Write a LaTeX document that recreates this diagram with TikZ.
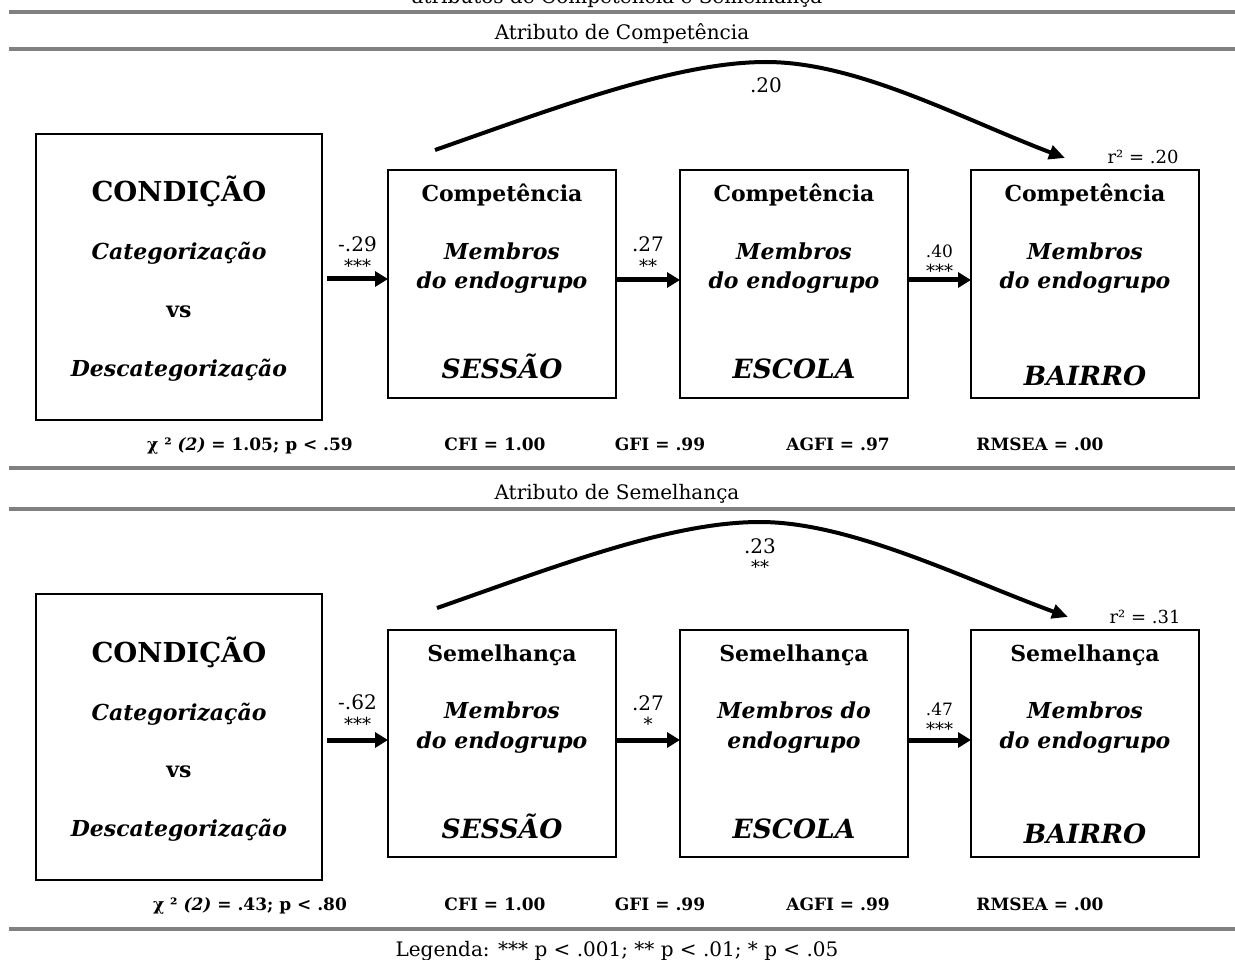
\documentclass[tikz,border=0pt]{standalone}
\usepackage{fontspec}
\setmainfont{DejaVu Serif}
\usetikzlibrary{arrows.meta,calc}
\definecolor{rulegray}{RGB}{128,128,128}
\begin{document}
\begin{tikzpicture}[x=1pt,y=-1pt,
  box/.style={draw, line width=1.4pt, inner sep=0pt, outer sep=0pt, anchor=north west},
  head/.style={font=\fontsize{20}{24}\selectfont, inner sep=0pt, anchor=base},
  big/.style={font=\bfseries\fontsize{27.5}{32}\selectfont, inner sep=0pt, anchor=base},
  bh/.style={font=\bfseries\fontsize{22}{26}\selectfont, inner sep=0pt, anchor=base},
  bi/.style={font=\bfseries\itshape\fontsize{22}{26}\selectfont, inner sep=0pt, anchor=base},
  bil/.style={font=\bfseries\itshape\fontsize{26.5}{30}\selectfont, inner sep=0pt, anchor=base},
  stat/.style={font=\bfseries\fontsize{17}{20}\selectfont, inner sep=0pt, anchor=base},
  coef/.style={font=\fontsize{20}{23}\selectfont, inner sep=0pt},
  coefs/.style={font=\fontsize{17}{20}\selectfont, inner sep=0pt},
  star/.style={font=\fontsize{18}{21}\selectfont, inner sep=0pt},
  rsq/.style={font=\fontsize{18}{21}\selectfont, inner sep=0pt},
  arr/.style={line width=5pt, -{Triangle[length=13pt,width=15pt]}},
  carr/.style={line width=4pt, -{Triangle[length=16pt,width=14pt]}},
  rule/.style={draw=rulegray, line width=4pt},
  sq/.style={box, minimum width=228pt, minimum height=228pt},
  cond/.style={box, minimum width=286pt, minimum height=286pt}
]
\useasboundingbox (0,0) rectangle (1235,960);

% title (cut off) and rules
\node[head] (title) at (617,4) {atributos de Competência e Semelhança};
\draw[rule] (9,12) -- (1235,12);
\node[head] (h1) at (622,40) {Atributo de Competência};
\draw[rule] (9,49.5) -- (1235,49.5);

% ---------------- top panel ----------------
\node[cond] (c1) at (36,134) {};
\node[sq] (s1) at (388,170) {};
\node[sq] (e1) at (680,170) {};
\node[sq] (b1) at (971,170) {};

\node[big] (c1a) at ($(c1.north)+(0,68)$) {CONDIÇÃO};
\node[bi]  (c1b) at ($(c1.north)+(0,126)$) {Categorização};
\node[bh]  (c1c) at ($(c1.north)+(0,183)$) {vs};
\node[bi]  (c1d) at ($(c1.north)+(0,242)$) {Descategorização};

\node[bh]  (s1a) at ($(s1.north)+(0,32)$) {Competência};
\node[bi]  (s1b) at ($(s1.north)+(0,90)$) {Membros};
\node[bi]  (s1c) at ($(s1.north)+(0,118)$) {do endogrupo};
\node[bil] (s1d) at ($(s1.north)+(0,208)$) {SESSÃO};

\node[bh]  (e1a) at ($(e1.north)+(0,32)$) {Competência};
\node[bi]  (e1b) at ($(e1.north)+(0,90)$) {Membros};
\node[bi]  (e1c) at ($(e1.north)+(0,118)$) {do endogrupo};
\node[bil] (e1d) at ($(e1.north)+(0,208)$) {ESCOLA};

\node[bh]  (b1a) at ($(b1.north)+(0,32)$) {Competência};
\node[bi]  (b1b) at ($(b1.north)+(0,90)$) {Membros};
\node[bi]  (b1c) at ($(b1.north)+(0,118)$) {do endogrupo};
\node[bil] (b1d) at ($(b1.north)+(0,215)$) {BAIRRO};

\node[rsq] (r1) at ($(b1.north)+(58,-13)$) {r² = .20};

\coordinate (c1o) at ([xshift=5pt,yshift=-2pt]c1.east);
\draw[arr] (c1o) -- (c1o -| s1.west)
  node[midway, yshift=35pt, coef] {-.29}
  node[midway, yshift=13pt, star] {***};
\draw[arr] ([yshift=4pt]s1.east) -- ([yshift=4pt]e1.west)
  node[midway, yshift=36pt, coef] {.27}
  node[midway, yshift=14pt, star] {**};
\draw[arr] ([yshift=4pt]e1.east) -- ([yshift=4pt]b1.west)
  node[midway, yshift=29pt, coefs] {.40}
  node[midway, yshift=9pt, star] {***};

\coordinate (t1a) at ([xshift=47pt,yshift=20pt]s1.north west);
\coordinate (t1b) at ([xshift=94pt,yshift=12pt]b1.north west);
\draw[carr] (t1a) .. controls (555,108) and (676,62) .. (766,62)
  .. controls (857,62) and (960,118) .. (t1b)
  node[pos=0, yshift=-23pt, coef] {.20};

\node[stat] (st1) at (250,450) {χ ² \textit{(2)} = 1.05; p < .59};
\node[stat] (st2) at (495,450) {CFI = 1.00};
\node[stat] (st3) at (660,450) {GFI = .99};
\node[stat] (st4) at (838,450) {AGFI = .97};
\node[stat] (st5) at (1040,450) {RMSEA = .00};

\draw[rule] (9,468) -- (1235,468);
\node[head] (h2) at (617,499) {Atributo de Semelhança};
\draw[rule] (9,509) -- (1235,509);

% ---------------- bottom panel ----------------
\node[cond] (c2) at (36,594) {};
\node[sq, minimum height=227pt] (s2) at (388,630) {};
\node[sq, minimum height=227pt] (e2) at (680,630) {};
\node[sq, minimum height=227pt] (b2) at (971,630) {};

\node[big] (c2a) at ($(c2.north)+(0,68)$) {CONDIÇÃO};
\node[bi]  (c2b) at ($(c2.north)+(0,126)$) {Categorização};
\node[bh]  (c2c) at ($(c2.north)+(0,183)$) {vs};
\node[bi]  (c2d) at ($(c2.north)+(0,242)$) {Descategorização};

\node[bh]  (s2a) at ($(s2.north)+(0,31)$) {Semelhança};
\node[bi]  (s2b) at ($(s2.north)+(0,88)$) {Membros};
\node[bi]  (s2c) at ($(s2.north)+(0,118)$) {do endogrupo};
\node[bil] (s2d) at ($(s2.north)+(0,208)$) {SESSÃO};

\node[bh]  (e2a) at ($(e2.north)+(0,31)$) {Semelhança};
\node[bi]  (e2b) at ($(e2.north)+(0,88)$) {Membros do};
\node[bi]  (e2c) at ($(e2.north)+(0,118)$) {endogrupo};
\node[bil] (e2d) at ($(e2.north)+(0,208)$) {ESCOLA};

\node[bh]  (b2a) at ($(b2.north)+(0,31)$) {Semelhança};
\node[bi]  (b2b) at ($(b2.north)+(0,88)$) {Membros};
\node[bi]  (b2c) at ($(b2.north)+(0,118)$) {do endogrupo};
\node[bil] (b2d) at ($(b2.north)+(0,213)$) {BAIRRO};

\node[rsq] (r2) at ($(b2.north)+(60,-13)$) {r² = .31};

\coordinate (c2o) at ([xshift=5pt,yshift=-3pt]c2.east);
\draw[arr] (c2o) -- (c2o -| s2.west)
  node[midway, yshift=38pt, coef] {-.62}
  node[midway, yshift=16pt, star] {***};
\draw[arr] ([yshift=3.5pt]s2.east) -- ([yshift=3.5pt]e2.west)
  node[midway, yshift=37pt, coef] {.27}
  node[midway, yshift=16pt, star] {*};
\draw[arr] ([yshift=3.5pt]e2.east) -- ([yshift=3.5pt]b2.west)
  node[midway, yshift=31pt, coefs] {.47}
  node[midway, yshift=11pt, star] {***};

\coordinate (t2a) at ([xshift=49pt,yshift=22pt]s2.north west);
\coordinate (t2b) at ([xshift=97pt,yshift=13pt]b2.north west);
\draw[carr] (t2a) .. controls (557,566) and (670,522) .. (760,522)
  .. controls (850,522) and (962,578) .. (t2b)
  node[pos=0, yshift=-24pt, coef] {.23}
  node[pos=0, yshift=-45pt, star] {**};

\node[stat] (st6) at (250,910) {χ ² \textit{(2)} = .43; p < .80};
\node[stat] (st7) at (495,910) {CFI = 1.00};
\node[stat] (st8) at (660,910) {GFI = .99};
\node[stat] (st9) at (838,910) {AGFI = .99};
\node[stat] (st10) at (1040,910) {RMSEA = .00};

\draw[rule] (9,929) -- (1235,929);
\node[head] (leg) at (617,956) {Legenda: *** p < .001; ** p < .01; * p < .05};
\end{tikzpicture}
\end{document}
